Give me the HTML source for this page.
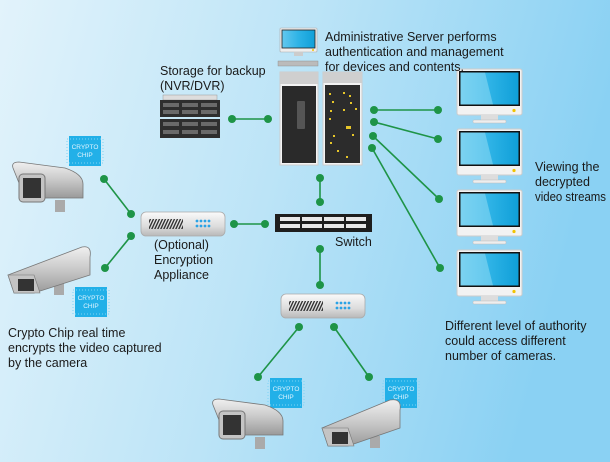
<!DOCTYPE html>
<html><head><meta charset="utf-8"><style>
html,body{margin:0;padding:0;width:610px;height:462px;overflow:hidden}
svg{display:block}
text{font-family:"Liberation Sans",sans-serif;fill:#1a1a1a}
</style></head><body>
<svg width="610" height="462" viewBox="0 0 610 462" xmlns="http://www.w3.org/2000/svg">
<defs>
<linearGradient id="bg" x1="0" y1="0" x2="1" y2="0.2">
<stop offset="0" stop-color="#e2f3fb"/><stop offset="0.5" stop-color="#bce4f7"/><stop offset="1" stop-color="#8ad1f3"/>
</linearGradient>
<linearGradient id="scr" x1="0" y1="0" x2="1" y2="0">
<stop offset="0" stop-color="#63c8ee"/><stop offset="0.5" stop-color="#2eb3e6"/><stop offset="1" stop-color="#0f9fd8"/>
</linearGradient>
<linearGradient id="silver" x1="0" y1="0" x2="0" y2="1">
<stop offset="0" stop-color="#fafafa"/><stop offset="0.6" stop-color="#dcdcdc"/><stop offset="1" stop-color="#b8b8b8"/>
</linearGradient>
<linearGradient id="cam" x1="0" y1="0" x2="0" y2="1">
<stop offset="0" stop-color="#f0f0f0"/><stop offset="0.5" stop-color="#c8c8c8"/><stop offset="1" stop-color="#9a9a9a"/>
</linearGradient>
<pattern id="hatch" width="3" height="10" patternUnits="userSpaceOnUse" patternTransform="skewX(-25)">
<rect width="1.5" height="10" fill="#333"/></pattern>
<g id="mon">
<rect x="0" y="0" width="65" height="46" rx="2" fill="#f2f2f2" stroke="#ccc"/>
<rect x="2" y="2" width="61" height="35" fill="#111"/>
<rect x="3.5" y="3.5" width="58" height="32" fill="url(#scr)"/>
<polygon points="3.5,3.5 28,3.5 36,35.5 3.5,35.5" fill="#8fdaf4" opacity="0.55"/>
<circle cx="57" cy="41.5" r="1.6" fill="#f2c400"/>
<rect x="24" y="46" width="17" height="5" fill="#ddd"/>
<rect x="16" y="51" width="33" height="3" rx="1" fill="#eee" stroke="#bbb" stroke-width="0.5"/>
</g>
<g id="chip">
<rect x="0" y="0" width="32" height="30" fill="#22b0e8"/>
<rect x="-2" y="3" width="36" height="24" fill="none" stroke="#7ed3f5" stroke-dasharray="1 2"/>
<text x="16" y="13" font-size="6.5" text-anchor="middle" style="fill:#dff4ff">CRYPTO</text>
<text x="16" y="21" font-size="6.5" text-anchor="middle" style="fill:#dff4ff">CHIP</text>
</g>
<g id="appl">
<rect x="0" y="0" width="84" height="24" rx="5" fill="url(#silver)" stroke="#aaa" stroke-width="0.8"/>
<rect x="8" y="7" width="34" height="10" fill="url(#hatch)"/>
<g fill="#2aa3e6">
<circle cx="56" cy="9" r="1.4"/><circle cx="60" cy="9" r="1.4"/><circle cx="64" cy="9" r="1.4"/><circle cx="68" cy="9" r="1.4"/>
<circle cx="56" cy="14" r="1.4"/><circle cx="60" cy="14" r="1.4"/><circle cx="64" cy="14" r="1.4"/><circle cx="68" cy="14" r="1.4"/></g>
</g>
<g id="camR">
<rect x="50" y="40" width="10" height="12" fill="#aaa"/>
<path d="M8,8 Q6,2 14,2 L60,8 Q78,14 78,24 L78,38 L20,38 Z" fill="url(#cam)" stroke="#777" stroke-width="0.8"/>
<rect x="14" y="14" width="26" height="28" rx="4" fill="#c4c4c4" stroke="#777"/>
<rect x="18" y="18" width="18" height="20" fill="#333"/>
</g>
</defs>
<rect width="610" height="462" fill="url(#bg)"/>

<g stroke="#1e9447" stroke-width="1.6" fill="none">
<line x1="104" y1="179" x2="131" y2="214"/>
<line x1="131" y1="236" x2="105" y2="268"/>
<line x1="234" y1="224" x2="265" y2="224"/>
<line x1="232" y1="119" x2="268" y2="119"/>
<line x1="320" y1="178" x2="320" y2="202"/>
<line x1="320" y1="249" x2="320" y2="285"/>
<line x1="374" y1="110" x2="438" y2="110"/>
<line x1="374" y1="122" x2="438" y2="139"/>
<line x1="373" y1="136" x2="439" y2="199"/>
<line x1="372" y1="148" x2="440" y2="268"/>
<line x1="299" y1="327" x2="258" y2="377"/>
<line x1="334" y1="327" x2="369" y2="377"/>
</g>
<g fill="#1e9447">
<circle cx="104" cy="179" r="4"/><circle cx="131" cy="214" r="4"/><circle cx="131" cy="236" r="4"/><circle cx="105" cy="268" r="4"/>
<circle cx="234" cy="224" r="4"/><circle cx="265" cy="224" r="4"/><circle cx="232" cy="119" r="4"/><circle cx="268" cy="119" r="4"/>
<circle cx="320" cy="178" r="4"/><circle cx="320" cy="202" r="4"/><circle cx="320" cy="249" r="4"/><circle cx="320" cy="285" r="4"/>
<circle cx="374" cy="110" r="4"/><circle cx="374" cy="122" r="4"/><circle cx="373" cy="136" r="4"/><circle cx="372" cy="148" r="4"/>
<circle cx="438" cy="110" r="4"/><circle cx="438" cy="139" r="4"/><circle cx="439" cy="199" r="4"/><circle cx="440" cy="268" r="4"/>
<circle cx="299" cy="327" r="4"/><circle cx="334" cy="327" r="4"/><circle cx="258" cy="377" r="4"/><circle cx="369" cy="377" r="4"/>
</g>

<use href="#mon" x="457" y="69"/><use href="#mon" x="457" y="129"/><use href="#mon" x="457" y="190"/><use href="#mon" x="457" y="250"/>

<rect x="280" y="28" width="37" height="24" rx="1" fill="#eee" stroke="#aaa" stroke-width="0.6"/>
<rect x="282" y="30" width="33" height="18" fill="url(#scr)" stroke="#222" stroke-width="0.8"/>
<circle cx="313" cy="50" r="1" fill="#f2c400"/>
<rect x="294" y="52" width="9" height="4" fill="#ccc"/>
<rect x="278" y="61" width="40" height="5" fill="#bbb" stroke="#888" stroke-width="0.4"/>
<rect x="280" y="72" width="38" height="93" fill="#f3f3f3" stroke="#ccc"/>
<rect x="280" y="72" width="38" height="12" fill="#cfcfcf"/>
<rect x="282" y="86" width="34" height="77" fill="#2a2a2a"/>
<rect x="297" y="101" width="8" height="28" rx="1" fill="#555"/>
<rect x="323" y="72" width="39" height="93" fill="#f3f3f3" stroke="#ccc"/>
<rect x="323" y="72" width="39" height="11" fill="#cfcfcf"/>
<rect x="325" y="85" width="35" height="78" fill="#2c2c2c"/>
<g fill="#e6c62a">
<rect x="329" y="93" width="2" height="2"/><rect x="343" y="92" width="2" height="2"/><rect x="349" y="95" width="2" height="2"/>
<rect x="332" y="101" width="2" height="2"/><rect x="350" y="102" width="2" height="2"/><rect x="330" y="110" width="2" height="2"/>
<rect x="343" y="109" width="2" height="2"/><rect x="355" y="108" width="2" height="2"/><rect x="329" y="118" width="2" height="2"/>
<rect x="346" y="126" width="5" height="3"/><rect x="333" y="135" width="2" height="2"/><rect x="352" y="134" width="2" height="2"/>
<rect x="330" y="142" width="2" height="2"/><rect x="337" y="150" width="2" height="2"/><rect x="346" y="156" width="2" height="2"/>
</g>
<rect x="163" y="95" width="54" height="5" fill="#ddd" stroke="#999" stroke-width="0.5"/>
<rect x="160" y="100" width="60" height="17" fill="#2e2e2e"/>
<rect x="160" y="119" width="60" height="19" fill="#2e2e2e"/>
<g fill="#6a6a6a">
<rect x="163" y="103" width="16" height="4"/><rect x="182" y="103" width="16" height="4"/><rect x="201" y="103" width="16" height="4"/>
<rect x="163" y="110" width="16" height="4"/><rect x="182" y="110" width="16" height="4"/><rect x="201" y="110" width="16" height="4"/>
<rect x="163" y="122" width="16" height="4"/><rect x="182" y="122" width="16" height="4"/><rect x="201" y="122" width="16" height="4"/>
<rect x="163" y="130" width="16" height="4"/><rect x="182" y="130" width="16" height="4"/><rect x="201" y="130" width="16" height="4"/>
</g>
<rect x="275" y="214" width="97" height="18" fill="#1e1e1e"/>
<g fill="#e8e8e8">
<rect x="280" y="217" width="20" height="4"/><rect x="302" y="217" width="20" height="4"/><rect x="324" y="217" width="20" height="4"/><rect x="346" y="217" width="20" height="4"/>
<rect x="280" y="224" width="20" height="4"/><rect x="302" y="224" width="20" height="4"/><rect x="324" y="224" width="20" height="4"/><rect x="346" y="224" width="20" height="4"/>
</g>
<use href="#appl" x="141" y="212"/>
<use href="#appl" x="281" y="294"/>
<use href="#chip" x="69" y="136"/><use href="#chip" x="75" y="287"/>
<use href="#chip" x="270" y="378"/><use href="#chip" x="385" y="378"/>
<use href="#camR" x="5" y="160"/>
<g transform="translate(4,245)">
<rect x="50" y="38" width="10" height="12" fill="#aaa"/>
<path d="M4,30 L78,2 Q88,0 86,12 L86,30 L30,48 L10,48 Z" fill="url(#cam)" stroke="#777" stroke-width="0.8"/>
<path d="M4,30 L30,30 L36,48 L10,48 Z" fill="#c4c4c4" stroke="#777" stroke-width="0.6"/>
<rect x="14" y="34" width="16" height="12" fill="#333"/>
</g>
<use href="#camR" x="205" y="397"/>
<g transform="translate(318,400)">
<rect x="52" y="36" width="10" height="12" fill="#aaa"/>
<path d="M4,28 L72,0 Q84,-2 82,10 L82,28 L30,46 L10,46 Z" fill="url(#cam)" stroke="#777" stroke-width="0.8"/>
<path d="M4,28 L30,28 L36,46 L10,46 Z" fill="#c4c4c4" stroke="#777" stroke-width="0.6"/>
<rect x="14" y="32" width="16" height="12" fill="#333"/>
</g>

<g font-size="12.5">
<text x="325" y="41">Administrative Server performs</text>
<text x="325" y="56">authentication and management</text>
<text x="325" y="71">for devices and contents.</text>
<text x="160" y="75">Storage for backup</text>
<text x="160" y="90">(NVR/DVR)</text>
<text x="154" y="249">(Optional)</text>
<text x="154" y="264">Encryption</text>
<text x="154" y="279">Appliance</text>
<text x="335" y="246">Switch</text>
<text x="535" y="171">Viewing the</text>
<text x="535" y="186">decrypted</text>
<text x="535" y="201" textLength="71" lengthAdjust="spacingAndGlyphs">video streams</text>
<text x="8" y="337">Crypto Chip real time</text>
<text x="8" y="352">encrypts the video captured</text>
<text x="8" y="367">by the camera</text>
<text x="445" y="330">Different level of authority</text>
<text x="445" y="345">could access different</text>
<text x="445" y="360">number of cameras.</text>
</g>
</svg>
</body></html>
